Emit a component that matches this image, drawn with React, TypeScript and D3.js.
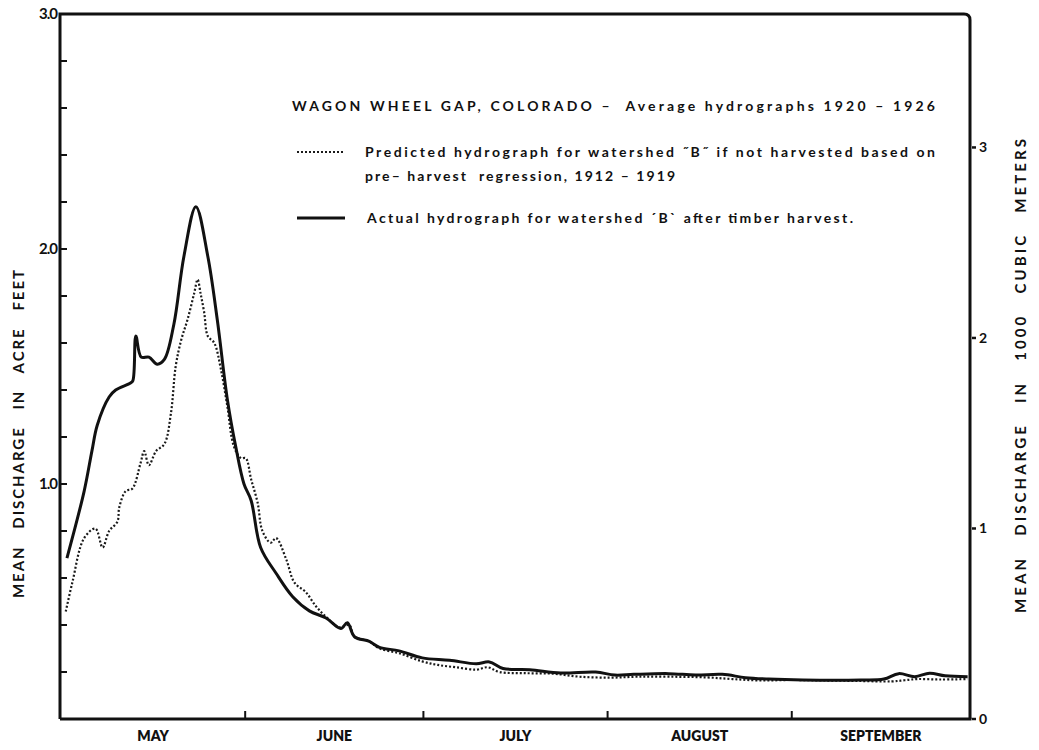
import React from "react";
import * as d3 from "d3";

// ---- Data ----
const monthNames = ["MAY", "JUNE", "JULY", "AUGUST", "SEPTEMBER"];
const monthLengths = [31, 30, 31, 31, 30];
const leftMajorTicks = [1, 2, 3];
const leftMajorLabels = ["1.0", "2.0", "3.0"];
const rightTicks = [0, 1, 2, 3];
const rightTickLabels = ["0", "1", "2", "3"];
const ACRE_FT_IN_1000_M3 = 1.233482;

// day of season (0 = May 1) and mean discharge (acre feet)
const actualDay = [1.0, 3.9, 5.2, 6.1, 8.1, 9.2, 11.7, 12.1, 12.6, 13.5, 14.8, 16.2, 17.4, 19.0, 20.7, 22.7, 24.7, 26.3, 28.0, 29.4, 30.8, 32.0, 33.6, 36.2, 39.0, 41.8, 44.6, 47.1, 48.2, 49.4, 51.9, 53.6, 56.9, 60.8, 65.4, 69.9, 72.1, 74.4, 78.9, 84.1, 90.0, 93.2, 96.4, 102.3, 106.8, 111.3, 115.2, 119.1, 124.9, 134.6, 138.5, 141.0, 143.7, 146.2, 148.8, 152.6];
const actualFlow = [0.685, 0.97, 1.14, 1.25, 1.37, 1.40, 1.43, 1.44, 1.63, 1.54, 1.54, 1.51, 1.53, 1.68, 1.97, 2.18, 1.97, 1.70, 1.36, 1.16, 1.00, 0.93, 0.73, 0.62, 0.52, 0.46, 0.43, 0.385, 0.41, 0.35, 0.33, 0.305, 0.29, 0.26, 0.25, 0.235, 0.243, 0.215, 0.21, 0.196, 0.2, 0.187, 0.19, 0.193, 0.187, 0.19, 0.176, 0.17, 0.166, 0.166, 0.17, 0.193, 0.18, 0.195, 0.184, 0.18];

const predictedDay = [0.8, 1.9, 3.9, 5.8, 7.0, 8.1, 9.5, 9.8, 10.9, 12.0, 13.4, 14.0, 14.8, 16.0, 17.4, 18.5, 19.3, 20.2, 21.3, 22.4, 23.0, 23.5, 24.1, 24.7, 25.8, 26.9, 28.0, 29.1, 30.3, 31.1, 32.0, 33.1, 33.9, 35.3, 36.2, 37.9, 39.3, 41.2, 42.9, 44.6, 46.8, 48.5, 49.4, 51.9, 53.6, 56.9, 60.8, 63.4, 66.5, 69.9, 71.8, 73.8, 78.0, 82.8, 87.3, 92.5, 97.0, 102.3, 108.7, 113.0, 117.8, 123.0, 128.1, 134.0, 139.8, 142.0, 144.2, 148.0, 152.6];
const predictedFlow = [0.457, 0.58, 0.77, 0.81, 0.73, 0.80, 0.84, 0.90, 0.97, 0.98, 1.09, 1.14, 1.08, 1.14, 1.17, 1.30, 1.50, 1.61, 1.70, 1.81, 1.87, 1.81, 1.73, 1.63, 1.60, 1.49, 1.33, 1.16, 1.11, 1.11, 1.02, 0.92, 0.80, 0.75, 0.77, 0.68, 0.58, 0.54, 0.48, 0.435, 0.39, 0.40, 0.35, 0.33, 0.30, 0.28, 0.245, 0.23, 0.22, 0.21, 0.22, 0.20, 0.195, 0.193, 0.18, 0.176, 0.18, 0.18, 0.177, 0.17, 0.164, 0.166, 0.164, 0.162, 0.16, 0.165, 0.17, 0.168, 0.17];

const legendTitle = "WAGON WHEEL GAP, COLORADO –  Average hydrographs 1920 – 1926";
const legendPredicted1 = "Predicted hydrograph for watershed ˝B˝ if not harvested based on";
const legendPredicted2 = "pre– harvest  regression, 1912 – 1919";
const legendActual = "Actual hydrograph for watershed ´B` after timber harvest.";
const leftAxisTitle = "MEAN   DISCHARGE   IN   ACRE   FEET";
const rightAxisTitle = "MEAN   DISCHARGE   IN   1000   CUBIC   METERS";

const FONT = "Lato, 'Open Sans', 'DejaVu Sans', sans-serif";

export default function App() {
  const W = 1039;
  const H = 750;
  const totalDays = d3.sum(monthLengths);
  const x = d3.scaleLinear().domain([0, totalDays]).range([61, 970]);
  const y = d3.scaleLinear().domain([0, 3]).range([719, 14]);
  const yR = d3.scaleLinear().domain([0, 3 * ACRE_FT_IN_1000_M3]).range([719, 14]);

  const line = d3
    .line<[number, number]>()
    .x((d) => x(d[0]))
    .y((d) => y(d[1]))
    .curve(d3.curveCatmullRom.alpha(0.5));

  const actualPts = actualDay.map((d, i) => [d, actualFlow[i]] as [number, number]);
  const predictedPts = predictedDay.map((d, i) => [d, predictedFlow[i]] as [number, number]);

  const boundaries = d3.cumsum(monthLengths);
  const monthStarts = [0, ...Array.from(boundaries).slice(0, -1)];
  const minorTicks = d3.range(1, 15).map((i) => i * 0.2);

  const x0 = x(0) - 1;
  const xR = x(totalDays);
  const yB = y(0);
  const yT = y(3);

  return (
    <svg
      width={W}
      height={H}
      viewBox={`0 0 ${W} ${H}`}
      style={{ position: "absolute", left: 0, top: 0, background: "#fff" }}
      fontFamily={FONT}
    >
      <rect x={0} y={0} width={W} height={H} fill="#fff" />

      {/* Frame */}
      <path
        d={`M${x0},${yB} L${x0},${yT} L${xR - 6},${yT} Q${xR},${yT} ${xR},${yT + 6} L${xR},${yB}`}
        fill="none"
        stroke="#111"
        strokeWidth={3}
      />
      <line x1={x0} x2={xR + 1.5} y1={yB} y2={yB} stroke="#111" strokeWidth={3} />

      {/* Left minor ticks */}
      {minorTicks.map((t, i) => (
        <line key={"lt" + i} x1={x0} x2={x0 + 7} y1={y(t)} y2={y(t)} stroke="#111" strokeWidth={2} />
      ))}
      {/* Left labels */}
      {leftMajorTicks.map((t, i) => (
        <text
          key={"ll" + i}
          x={57}
          y={y(t) + 5}
          textAnchor="end"
          fontSize={15}
          fontWeight={700}
          letterSpacing={-1}
          fill="#111"
        >
          {leftMajorLabels[i]}
        </text>
      ))}

      {/* Right ticks */}
      {rightTicks.map((t, i) => (
        <g key={"rt" + i}>
          <line x1={xR + 2} x2={xR + 6} y1={yR(t)} y2={yR(t)} stroke="#111" strokeWidth={2.5} />
          <text x={xR + 9} y={yR(t) + 5} fontSize={14} fontWeight={700} fill="#111">
            {rightTickLabels[i]}
          </text>
        </g>
      ))}

      {/* Bottom ticks at month boundaries */}
      {Array.from(boundaries)
        .slice(0, -1)
        .map((b, i) => (
          <line key={"bt" + i} x1={x(b)} x2={x(b)} y1={yB} y2={yB - 8} stroke="#111" strokeWidth={2} />
        ))}
      {monthNames.map((m, i) => (
        <text
          key={"m" + i}
          x={x(monthStarts[i] + monthLengths[i] / 2)}
          y={741}
          textAnchor="middle"
          fontSize={14}
          fontWeight={800}
          fill="#111"
        >
          {m}
        </text>
      ))}

      {/* Axis titles */}
      <text
        transform={`translate(24,434) rotate(-90)`}
        textAnchor="middle"
        fontSize={15}
        fontWeight={700}
        fill="#111"
        textLength={328}
        lengthAdjust="spacing"
        style={{ whiteSpace: "pre" }}
      >
        {leftAxisTitle}
      </text>
      <text
        transform={`translate(1026,376) rotate(-90)`}
        textAnchor="middle"
        fontSize={15}
        fontWeight={700}
        fill="#111"
        textLength={474}
        lengthAdjust="spacing"
        style={{ whiteSpace: "pre" }}
      >
        {rightAxisTitle}
      </text>

      {/* Curves */}
      <path d={line(predictedPts) || ""} fill="none" stroke="#1a1a1a" strokeWidth={2.2} strokeDasharray="2 2" />
      <path d={line(actualPts) || ""} fill="none" stroke="#111" strokeWidth={3} strokeLinejoin="round" />

      {/* Legend */}
      <g fill="#111" fontWeight={700} fontSize={14}>
        <text x={292} y={111} textLength={643} lengthAdjust="spacing" style={{ whiteSpace: "pre" }}>
          {legendTitle}
        </text>
        <line x1={297} x2={345} y1={152} y2={152} stroke="#1a1a1a" strokeWidth={2.2} strokeDasharray="2 2" />
        <text x={365} y={157} textLength={570} lengthAdjust="spacing" style={{ whiteSpace: "pre" }}>
          {legendPredicted1}
        </text>
        <text x={365} y={181} textLength={310} lengthAdjust="spacing" style={{ whiteSpace: "pre" }}>
          {legendPredicted2}
        </text>
        <line x1={297} x2={345} y1={218} y2={218} stroke="#111" strokeWidth={3} />
        <text x={367} y={223} textLength={486} lengthAdjust="spacing" style={{ whiteSpace: "pre" }}>
          {legendActual}
        </text>
      </g>
    </svg>
  );
}
